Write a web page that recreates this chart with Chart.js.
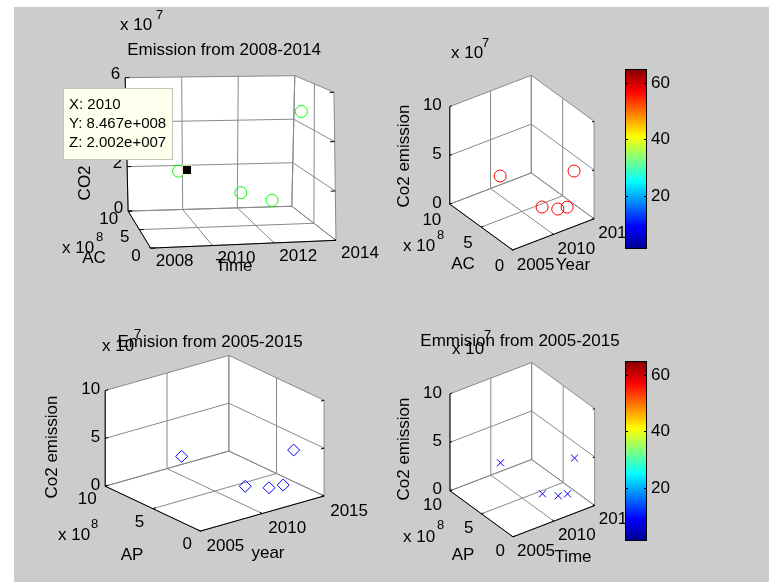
<!DOCTYPE html>
<html lang="en">
<head>
<meta charset="UTF-8" />
<title>Emission 3-D scatter panels</title>
<script src="https://cdn.jsdelivr.net/npm/chart.js"></script>
<style>
  html, body { margin: 0; padding: 0; background: #ffffff; }
  #fig { position: relative; width: 769px; height: 582px; overflow: hidden; }
  #figBg { position: absolute; left: 14px; top: 7px; right: 0; bottom: 0; background: #cccccc; }
  .layer { position: absolute; left: 0; top: 0; width: 769px; height: 582px; }
  .cbar { position: absolute; width: 62px; height: 180px; }
</style>
</head>
<body>
<div id="fig">
  <div id="figBg"></div>
  <div class="layer"><canvas id="tl"></canvas></div>
  <div class="layer"><canvas id="tr"></canvas></div>
  <div class="layer"><canvas id="bl"></canvas></div>
  <div class="layer"><canvas id="br"></canvas></div>
  <div class="cbar" style="left:625px; top:69px;"><canvas id="cbTop"></canvas></div>
  <div class="cbar" style="left:625px; top:361px;"><canvas id="cbBottom"></canvas></div>
</div>

<script>
// ---- data ----
// top-left panel, Emission from 2008-2014
const tlTime = [2009, 2011, 2012, 2013];
const tlAC = [1.3e8, 0.74e8, 0.53e8, 0.7e8];
const tlCO2 = [2.87e7, 1.98e7, 1.65e7, 5.2e7];
// the data tip shown on that panel
const tipX = [2010];
const tipY = [8.467e8];
const tipZ = [2.002e7];

// the three 2005-2015 panels
const years = [2010, 2011, 2012, 2013, 2014];
const acVals = [8.467e8, 3.09e8, 1.89e8, 0.6e8, 3.0e8];
const apVals = [8.467e8, 3.09e8, 1.89e8, 0.6e8, 3.0e8];
const co2Vals = [2.002e7, 1.03e7, 1.07e7, 5.25e7, 0.1e7];

// ticks
const tlTimeTicks = [2008, 2010, 2012, 2014];
const yearTicks = [2005, 2010, 2015];
const acTicks = [0, 5e8, 10e8];
const tlCo2Ticks = [0, 2e7, 4e7, 6e7];
const co2Ticks = [0, 5e7, 10e7];
const cbTicks = [20, 40, 60];
const cbRange = [1, 65];

const FONT = "'Liberation Sans', Arial, Helvetica, sans-serif";
const W = 769, H = 582;

// screen corners of an orthographic box: origin + unit edge vectors
function boxFrom(o, ex, ey, ez) {
  const c = {};
  [0, 1].forEach(i => [0, 1].forEach(j => [0, 1].forEach(k => {
    c[`${i}${j}${k}`] = [o[0] + i * ex[0] + j * ey[0] + k * ez[0],
                         o[1] + i * ex[1] + j * ey[1] + k * ez[1]];
  })));
  return c;
}

function lerp(p, q, t) { return [p[0] + (q[0] - p[0]) * t, p[1] + (q[1] - p[1]) * t]; }

// trilinear map of the unit cube onto the drawn box (handles the perspective panel too)
function trilinear(c, a, b, g) {
  const f0 = lerp(lerp(c['000'], c['100'], a), lerp(c['010'], c['110'], a), b);
  const f1 = lerp(lerp(c['001'], c['101'], a), lerp(c['011'], c['111'], a), b);
  return lerp(f0, f1, g);
}

function fmtE(v) {
  return v.toExponential(3).replace(/e([+-])(\d+)/, (m, s, d) => 'e' + s + d.padStart(3, '0'));
}

const panels = [
  {
    id: 'tl',
    corners: { '000': [146, 247], '100': [335, 239], '010': [123, 209], '110': [290, 204],
               '001': [148, 92], '101': [333, 87], '011': [120, 72], '111': [293, 70] },
    xr: [2008, 2014], yr: [0, 10e8], zr: [0, 6e7],
    xt: tlTimeTicks, yt: acTicks, zt: tlCo2Ticks, yExp: 8, zExp: 7,
    xLab: [24, 13, 'center'], yLab: [-10, 8, 'right'], zLab: [-5, -3, 'right'],
    series: [
      { x: tlTime, y: tlAC, z: tlCO2, style: 'circle', r: 6, color: '#00ff00' },
      { x: tipX, y: tipY, z: tipZ, style: 'rect', r: 6.5, color: '#ffffd0', fill: '#000000' }
    ],
    texts: [
      ['Emission from 2008-2014', 224, 50, 'center'],
      ['x 10', 120, 25], ['7', 156, 15, 'left', 13],
      ['x 10', 62, 248], ['8', 96, 237, 'left', 13],
      ['AC', 94, 258, 'center'], ['Time', 234, 266, 'center'],
      ['CO2 emission', 85, 147, 'center', 17, true]
    ],
    tip: { box: [63, 88, 110, 72],
           lines: [`X: ${tipX[0]}`, `Y: ${fmtE(tipY[0])}`, `Z: ${fmtE(tipZ[0])}`] }
  },
  {
    id: 'tr',
    corners: boxFrom([515, 249], [83, -32], [-64, -47], [0, -100]),
    xr: [2005, 2015], yr: [0, 10e8], zr: [0, 10e7],
    xt: yearTicks, yt: acTicks, zt: co2Ticks, yExp: 8, zExp: 7,
    xLab: [23, 15, 'center'], yLab: [-8.5, 16, 'right'], zLab: [-8, -1, 'right'],
    series: [{ x: years, y: acVals, z: co2Vals, style: 'circle', r: 6, color: '#ff0000' }],
    texts: [
      ['x 10', 451, 53], ['7', 482, 43, 'left', 13],
      ['x 10', 403, 246], ['8', 437, 235, 'left', 13],
      ['AC', 463, 264, 'center'], ['Year', 573, 265, 'center'],
      ['Co2 emission', 404, 156, 'center', 17, true]
    ]
  },
  {
    id: 'bl',
    corners: boxFrom([197, 537], [126, -36], [-97, -46], [0, -98]),
    xr: [2005, 2015], yr: [0, 10e8], zr: [0, 10e7],
    xt: yearTicks, yt: acTicks, zt: co2Ticks, yExp: 8, zExp: 7,
    xLab: [25, 15, 'center'], yLab: [-8.5, 13.5, 'right'], zLab: [-5, -1, 'right'],
    series: [{ x: years, y: apVals, z: co2Vals, style: 'rectRot', r: 6, color: '#0000ff' }],
    texts: [
      ['Emision from 2005-2015', 210, 342, 'center'],
      ['x 10', 102, 346], ['7', 134, 334, 'left', 13],
      ['x 10', 58, 535], ['8', 91, 524, 'left', 13],
      ['AP', 132, 555, 'center'], ['year', 268, 553, 'center'],
      ['Co2 emission', 52, 447, 'center', 17, true]
    ]
  },
  {
    id: 'br',
    corners: boxFrom([515, 542], [83, -32], [-64, -47], [0, -99]),
    xr: [2005, 2015], yr: [0, 10e8], zr: [0, 10e7],
    xt: yearTicks, yt: acTicks, zt: co2Ticks, yExp: 8, zExp: 7,
    xLab: [23, 14, 'center'], yLab: [-8, 14.5, 'right'], zLab: [-8, -1, 'right'],
    series: [{ x: years, y: apVals, z: co2Vals, style: 'crossRot', r: 5, color: '#0000ff' }],
    texts: [
      ['Emmision from 2005-2015', 520, 341, 'center'],
      ['x 10', 452, 349], ['7', 484, 335, 'left', 13],
      ['x 10', 403, 537], ['8', 437, 525, 'left', 13],
      ['AP', 463, 555, 'center'], ['Time', 573, 557, 'center'],
      ['Co2 emission', 404, 449, 'center', 17, true]
    ]
  }
];

function drawText(ctx, str, x, y, align = 'left', size = 17, rotate = false) {
  ctx.save();
  ctx.font = `${size}px ${FONT}`;
  ctx.fillStyle = '#000';
  ctx.textAlign = align;
  ctx.textBaseline = 'middle';
  ctx.translate(x, y);
  if (rotate) ctx.rotate(-Math.PI / 2);
  ctx.fillText(str, 0, 0);
  ctx.restore();
}

function buildPanel(p) {
  const norm = (v, r) => (v - r[0]) / (r[1] - r[0]);
  const P = (a, b, g) => { const q = trilinear(p.corners, a, b, g); return { x: q[0], y: q[1] }; };
  const proj = (x, y, z) => P(norm(x, p.xr), norm(y, p.yr), norm(z, p.zr));
  const GAP = { x: null, y: null };
  const grid = [], axes = [], ticks = [];
  const seg = (arr, A, B) => arr.push(A, B, GAP);

  const xs = p.xt.map(v => norm(v, p.xr));
  const ys = p.yt.map(v => norm(v, p.yr));
  const zs = p.zt.map(v => norm(v, p.zr));
  // grid on the floor, the back wall (y max) and the side wall (x max)
  xs.forEach(a => { seg(grid, P(a, 0, 0), P(a, 1, 0)); seg(grid, P(a, 1, 0), P(a, 1, 1)); });
  ys.forEach(b => { seg(grid, P(0, b, 0), P(1, b, 0)); seg(grid, P(1, b, 0), P(1, b, 1)); });
  zs.forEach(g => { seg(grid, P(0, 1, g), P(1, 1, g)); seg(grid, P(1, 0, g), P(1, 1, g)); });
  // axis lines
  seg(axes, P(0, 0, 0), P(1, 0, 0));
  seg(axes, P(0, 0, 0), P(0, 1, 0));
  seg(axes, P(0, 1, 0), P(0, 1, 1));
  // tick marks
  const k = 0.025;
  xs.forEach(a => seg(ticks, P(a, 0, 0), P(a, k, 0)));
  ys.forEach(b => seg(ticks, P(0, b, 0), P(k, b, 0)));
  zs.forEach(g => { seg(ticks, P(0, 1, g), P(k, 1, g)); seg(ticks, P(1, 0, g), P(1 - k, 0, g)); });

  const lineDs = (data, color, order) => ({
    data, showLine: true, pointRadius: 0, pointHoverRadius: 0, borderWidth: 1,
    borderColor: color, backgroundColor: color, fill: false, spanGaps: false, order
  });

  const markerDs = p.series.map(s => ({
    data: s.x.map((v, i) => proj(v, s.y[i], s.z[i])),
    pointStyle: s.style, pointRadius: s.r, pointHoverRadius: s.r, borderWidth: 1,
    borderColor: s.color, backgroundColor: s.fill || 'rgba(0,0,0,0)', order: s.fill ? 1 : 2
  }));

  const panelPlugin = {
    id: 'panel3d',
    beforeDatasetsDraw(chart) {
      const { ctx, scales: { x, y } } = chart;
      ctx.save();
      ctx.fillStyle = '#ffffff';
      ctx.beginPath();
      ['000', '100', '101', '111', '011', '010'].forEach((key, i) => {
        const c = p.corners[key];
        const px = x.getPixelForValue(c[0]), py = y.getPixelForValue(c[1]);
        if (i === 0) ctx.moveTo(px, py); else ctx.lineTo(px, py);
      });
      ctx.closePath();
      ctx.fill();
      ctx.restore();
    },
    afterDatasetsDraw(chart) {
      const { ctx, scales: { x, y } } = chart;
      const at = pt => [x.getPixelForValue(pt.x), y.getPixelForValue(pt.y)];
      p.xt.forEach(v => {
        const [u, w] = at(proj(v, p.yr[0], p.zr[0]));
        drawText(ctx, String(v), u + p.xLab[0], w + p.xLab[1], p.xLab[2]);
      });
      p.yt.forEach(v => {
        const [u, w] = at(proj(p.xr[0], v, p.zr[0]));
        drawText(ctx, String(v / 10 ** p.yExp), u + p.yLab[0], w + p.yLab[1], p.yLab[2]);
      });
      p.zt.forEach(v => {
        const [u, w] = at(proj(p.xr[0], p.yr[1], v));
        drawText(ctx, String(v / 10 ** p.zExp), u + p.zLab[0], w + p.zLab[1], p.zLab[2]);
      });
      p.texts.forEach(t => drawText(ctx, t[0], t[1], t[2], t[3] || 'left', t[4] || 17, !!t[5]));

      if (p.tip) {
        const [bx, by, bw, bh] = p.tip.box;
        ctx.save();
        ctx.fillStyle = '#ffffee';
        ctx.fillRect(bx, by, bw, bh);
        ctx.strokeStyle = '#c4c4b8';
        ctx.lineWidth = 1;
        ctx.strokeRect(bx + 0.5, by + 0.5, bw - 1, bh - 1);
        ctx.restore();
        p.tip.lines.forEach((s, i) => drawText(ctx, s, bx + 6, by + 17 + i * 19, 'left', 15));
      }
    }
  };

  return new Chart(document.getElementById(p.id), {
    type: 'scatter',
    data: {
      datasets: [
        ...markerDs,
        lineDs(ticks, '#000000', 3),
        lineDs(axes, '#000000', 4),
        lineDs(grid, '#8a8a8a', 5)
      ]
    },
    options: {
      responsive: true,
      maintainAspectRatio: false,
      animation: false,
      events: [],
      layout: { padding: 0 },
      plugins: { legend: { display: false }, tooltip: { enabled: false } },
      scales: {
        x: { type: 'linear', display: false, min: 0, max: W },
        y: { type: 'linear', display: false, min: 0, max: H, reverse: true }
      }
    },
    plugins: [panelPlugin]
  });
}

// MATLAB jet colormap as a vertical gradient
function jetGradient(chart) {
  const a = chart.chartArea;
  if (!a) return 'rgba(0,0,0,0)';
  const g = chart.ctx.createLinearGradient(0, a.bottom, 0, a.top);
  [[0, '#00008f'], [0.125, '#0000ff'], [0.375, '#00ffff'],
   [0.625, '#ffff00'], [0.875, '#ff0000'], [1, '#800000']].forEach(s => g.addColorStop(s[0], s[1]));
  return g;
}

function buildColorbar(id) {
  const frame = {
    id: 'cbFrame',
    afterDatasetsDraw(chart) {
      const { ctx, chartArea: a, scales: { y } } = chart;
      ctx.save();
      ctx.strokeStyle = '#000';
      ctx.lineWidth = 1;
      ctx.strokeRect(a.left + 0.5, a.top + 0.5, a.width - 1, a.height - 1);
      cbTicks.forEach(v => {
        const py = Math.round(y.getPixelForValue(v)) + 0.5;
        ctx.beginPath();
        ctx.moveTo(a.left, py); ctx.lineTo(a.left + 3, py);
        ctx.moveTo(a.right - 3, py); ctx.lineTo(a.right, py);
        ctx.stroke();
        drawText(ctx, String(v), a.right + 4, py, 'left', 17);
      });
      ctx.restore();
    }
  };
  return new Chart(document.getElementById(id), {
    type: 'bar',
    data: {
      labels: [''],
      datasets: [{
        data: [cbRange],
        backgroundColor: c => jetGradient(c.chart),
        borderWidth: 0,
        barPercentage: 1,
        categoryPercentage: 1
      }]
    },
    options: {
      responsive: true,
      maintainAspectRatio: false,
      animation: false,
      events: [],
      layout: { padding: { right: 40 } },
      plugins: { legend: { display: false }, tooltip: { enabled: false } },
      scales: {
        x: { display: false },
        y: { display: false, min: cbRange[0], max: cbRange[1] }
      }
    },
    plugins: [frame]
  });
}

panels.forEach(buildPanel);
buildColorbar('cbTop');
buildColorbar('cbBottom');
</script>
</body>
</html>
